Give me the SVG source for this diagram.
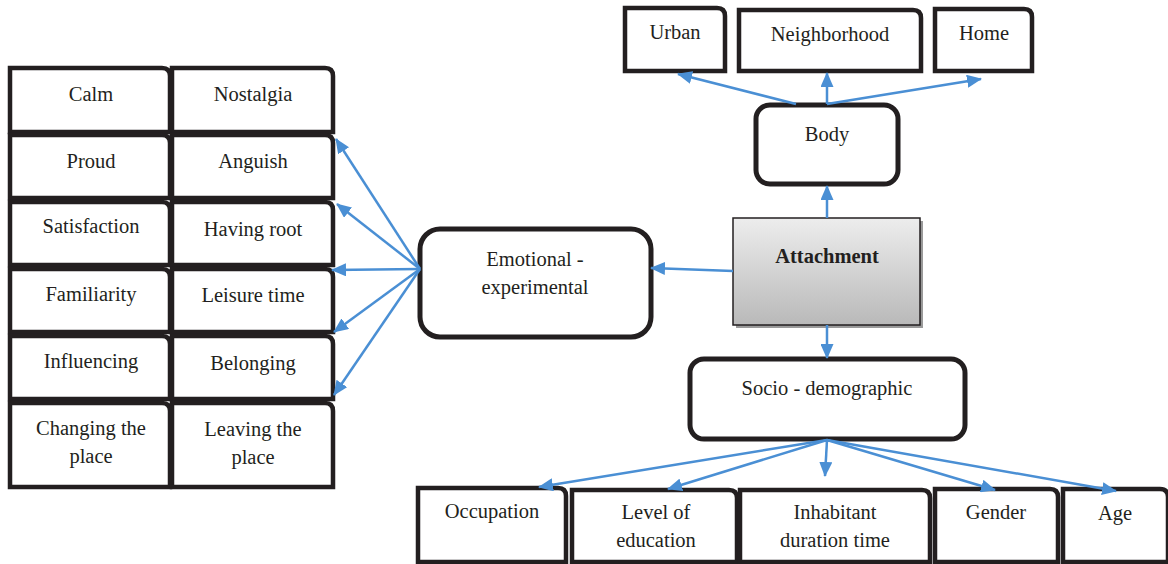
<svg xmlns="http://www.w3.org/2000/svg" width="1168" height="564" viewBox="0 0 1168 564">
<defs>
<marker id="ah" markerUnits="userSpaceOnUse" markerWidth="15" markerHeight="13" refX="14" refY="6.5" orient="auto">
<path d="M0,0 L15,6.5 L0,13 Z" fill="#4a8fd4"/>
</marker>
<linearGradient id="gr" x1="0" y1="0" x2="0" y2="1">
<stop offset="0" stop-color="#ededed"/>
<stop offset="1" stop-color="#b9b9b9"/>
</linearGradient>
<style>
.b{fill:#fff;stroke:#231f20;stroke-width:4.5;stroke-linejoin:miter}
.r{fill:#fff;stroke:#231f20;stroke-width:5}
.t{font-family:"Liberation Serif","Times New Roman",serif;font-size:20.5px;fill:#231f20;text-anchor:middle}
.c line{stroke:#4a8fd4;stroke-width:2.5;marker-end:url(#ah)}
</style>
</defs>

<g id="calm"><path class="b" d="M10,68 H162 Q170,68 170,76 V132 H10 Z"/><text class="t" x="91" y="101">Calm</text></g>
<g id="nostalgia"><path class="b" d="M172,68 H325 Q333,68 333,76 V132 H172 Z"/><text class="t" x="253" y="101">Nostalgia</text></g>
<g id="proud"><path class="b" d="M10,135 H162 Q170,135 170,143 V198 H10 Z"/><text class="t" x="91" y="168">Proud</text></g>
<g id="anguish"><path class="b" d="M172,135 H325 Q333,135 333,143 V198 H172 Z"/><text class="t" x="253" y="168">Anguish</text></g>
<g id="satisfaction"><path class="b" d="M10,202 H162 Q170,202 170,210 V265 H10 Z"/><text class="t" x="91" y="233">Satisfaction</text></g>
<g id="having-root"><path class="b" d="M172,202 H325 Q333,202 333,210 V265 H172 Z"/><text class="t" x="253" y="236">Having root</text></g>
<g id="familiarity"><path class="b" d="M10,269 H162 Q170,269 170,277 V332 H10 Z"/><text class="t" x="91" y="301">Familiarity</text></g>
<g id="leisure-time"><path class="b" d="M172,269 H325 Q333,269 333,277 V332 H172 Z"/><text class="t" x="253" y="302">Leisure time</text></g>
<g id="influencing"><path class="b" d="M10,336 H162 Q170,336 170,344 V399 H10 Z"/><text class="t" x="91" y="368">Influencing</text></g>
<g id="belonging"><path class="b" d="M172,336 H325 Q333,336 333,344 V399 H172 Z"/><text class="t" x="253" y="370">Belonging</text></g>
<g id="changing"><path class="b" d="M10,403 H162 Q170,403 170,411 V487 H10 Z"/><text class="t" x="91" y="435">Changing the</text><text class="t" x="91" y="463">place</text></g>
<g id="leaving"><path class="b" d="M172,403 H325 Q333,403 333,411 V487 H172 Z"/><text class="t" x="253" y="436">Leaving the</text><text class="t" x="253" y="464">place</text></g>

<g id="urban"><path class="b" d="M625,8 H717 Q725,8 725,16 V71 H625 Z"/><text class="t" x="675" y="39">Urban</text></g>
<g id="neighborhood"><path class="b" d="M739,10 H913 Q921,10 921,18 V71 H739 Z"/><text class="t" x="830" y="41">Neighborhood</text></g>
<g id="home"><path class="b" d="M935,9 H1024 Q1032,9 1032,17 V71 H935 Z"/><text class="t" x="984" y="40">Home</text></g>

<g id="body"><rect class="r" x="756" y="105" width="142" height="79" rx="14"/><text class="t" x="827" y="141">Body</text></g>

<g id="attachment"><rect x="736" y="221" width="187" height="107" fill="#9a9a9a"/><rect x="733" y="218" width="187" height="107" fill="url(#gr)" stroke="#231f20" stroke-width="1.5"/><text class="t" x="827" y="263" font-weight="bold">Attachment</text></g>

<g id="emotional"><rect class="r" x="420" y="229" width="231" height="108" rx="20"/><text class="t" x="535" y="266">Emotional -</text><text class="t" x="535" y="294">experimental</text></g>

<g id="socio"><rect class="r" x="690" y="359" width="275" height="80" rx="14"/><text class="t" x="827" y="395">Socio - demographic</text></g>

<g id="occupation"><path class="b" d="M418,488 H558 Q566,488 566,496 V562 H418 Z"/><text class="t" x="492" y="518">Occupation</text></g>
<g id="level"><path class="b" d="M572,490 H729 Q737,490 737,498 V562 H572 Z"/><text class="t" x="656" y="519">Level of</text><text class="t" x="656" y="547">education</text></g>
<g id="inhabitant"><path class="b" d="M740,490 H922 Q930,490 930,498 V562 H740 Z"/><text class="t" x="835" y="519">Inhabitant</text><text class="t" x="835" y="547">duration time</text></g>
<g id="gender"><path class="b" d="M935,489 H1050 Q1058,489 1058,497 V562 H935 Z"/><text class="t" x="996" y="519">Gender</text></g>
<g id="age"><path class="b" d="M1063,489 H1160 Q1168,489 1168,497 V562 H1063 Z"/><text class="t" x="1115" y="520">Age</text></g>

<g id="connectors" class="c">
<line x1="796" y1="104" x2="678" y2="74"/>
<line x1="827" y1="104" x2="827" y2="73"/>
<line x1="827" y1="104" x2="981" y2="79"/>
<line x1="827" y1="218" x2="827" y2="186"/>
<line x1="733" y1="271" x2="651" y2="268"/>
<line x1="827" y1="325" x2="827" y2="358"/>
<line x1="420" y1="269" x2="336" y2="139"/>
<line x1="420" y1="269" x2="337" y2="204"/>
<line x1="420" y1="269" x2="332" y2="270"/>
<line x1="420" y1="269" x2="334" y2="332"/>
<line x1="420" y1="269" x2="334" y2="395"/>
<line x1="827" y1="440" x2="539" y2="487"/>
<line x1="827" y1="440" x2="668" y2="489"/>
<line x1="827" y1="440" x2="825" y2="476"/>
<line x1="827" y1="440" x2="995" y2="490"/>
<line x1="827" y1="440" x2="1116" y2="491"/>
</g>
</svg>
